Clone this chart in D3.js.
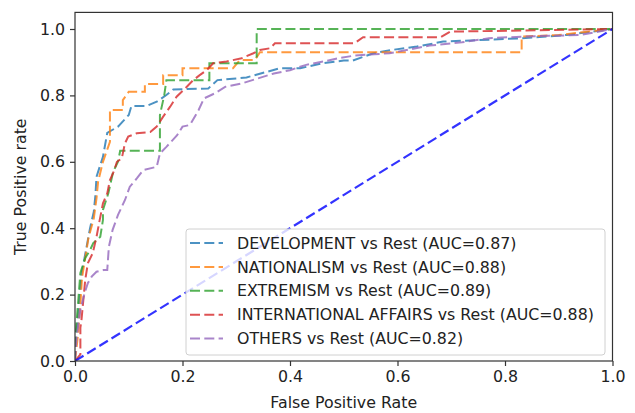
<!DOCTYPE html>
<html>
<head>
<meta charset="utf-8">
<script src="https://cdn.jsdelivr.net/npm/d3@7"></script>
<style>
  html, body { margin: 0; padding: 0; background: #fff; }
  svg { display: block; font-family: "DejaVu Sans", sans-serif; }
</style>
</head>
<body>
<svg id="chart" width="635" height="413"></svg>
<script>
// One-vs-rest ROC curves: [false positive rate, true positive rate] vertices
const classes = ["DEVELOPMENT", "NATIONALISM", "EXTREMISM", "INTERNATIONAL AFFAIRS", "OTHERS"];
const aucValues = [0.87, 0.88, 0.89, 0.88, 0.82];
const seriesColors = ["#1f77b4", "#ff7f0e", "#2ca02c", "#d62728", "#9467bd"];

const rocDevelopment = [
  [0,0],[0.002,0.08],[0.005,0.12],[0.01,0.22],[0.013,0.27],[0.02,0.33],[0.028,0.40],
  [0.035,0.45],[0.038,0.50],[0.040,0.555],[0.052,0.615],[0.060,0.687],[0.080,0.706],
  [0.100,0.741],[0.105,0.768],[0.133,0.768],[0.152,0.781],[0.170,0.801],[0.183,0.818],
  [0.248,0.821],[0.265,0.846],[0.319,0.854],[0.357,0.871],[0.381,0.882],[0.419,0.882],
  [0.462,0.897],[0.500,0.905],[0.517,0.905],[0.555,0.927],[0.590,0.937],[0.636,0.947],
  [0.685,0.962],[0.830,0.972],[0.915,0.982],[1,1]
];
const rocNationalism = [
  [0,0],[0.005,0.07],[0.010,0.17],[0.013,0.25],[0.018,0.30],[0.025,0.37],[0.035,0.43],
  [0.040,0.49],[0.043,0.54],[0.052,0.60],[0.065,0.66],[0.065,0.756],[0.089,0.756],
  [0.089,0.786],[0.100,0.811],[0.130,0.811],[0.130,0.834],[0.164,0.834],[0.164,0.861],
  [0.200,0.861],[0.200,0.882],[0.294,0.882],[0.307,0.907],[0.335,0.907],[0.344,0.930],
  [0.831,0.930],[0.831,0.977],[0.900,0.982],[1,1]
];
const rocExtremism = [
  [0,0],[0,0.05],[0.003,0.12],[0.006,0.18],[0.010,0.265],[0.019,0.31],[0.028,0.334],
  [0.034,0.355],[0.040,0.364],[0.047,0.374],[0.052,0.425],[0.052,0.455],[0.062,0.505],
  [0.071,0.570],[0.080,0.600],[0.084,0.633],[0.158,0.633],[0.158,0.741],[0.166,0.800],
  [0.170,0.846],[0.250,0.846],[0.250,0.897],[0.338,0.897],[0.338,1.0],[1,1]
];
const rocInternational = [
  [0,0],[0.010,0.02],[0.010,0.10],[0.012,0.123],[0.015,0.175],[0.019,0.244],[0.024,0.295],
  [0.033,0.325],[0.040,0.374],[0.046,0.425],[0.052,0.475],[0.060,0.505],[0.065,0.545],
  [0.072,0.570],[0.078,0.600],[0.087,0.610],[0.093,0.656],[0.099,0.676],[0.115,0.686],
  [0.140,0.690],[0.152,0.706],[0.164,0.736],[0.177,0.766],[0.189,0.796],[0.205,0.821],
  [0.220,0.846],[0.232,0.861],[0.245,0.876],[0.257,0.897],[0.282,0.902],[0.310,0.912],
  [0.332,0.927],[0.344,0.937],[0.363,0.942],[0.372,0.957],[0.520,0.957],[0.536,0.975],
  [0.680,0.975],[0.698,0.992],[1,1]
];
const rocOthers = [
  [0,0],[0.003,0.073],[0.010,0.154],[0.018,0.205],[0.024,0.235],[0.031,0.254],[0.040,0.269],
  [0.053,0.274],[0.060,0.274],[0.063,0.344],[0.070,0.395],[0.080,0.440],[0.093,0.485],
  [0.102,0.525],[0.115,0.550],[0.127,0.575],[0.152,0.585],[0.158,0.625],[0.170,0.645],
  [0.190,0.680],[0.200,0.706],[0.214,0.711],[0.230,0.756],[0.240,0.791],[0.260,0.806],
  [0.280,0.826],[0.310,0.836],[0.340,0.851],[0.370,0.866],[0.400,0.876],[0.430,0.892],
  [0.462,0.902],[0.490,0.912],[0.520,0.920],[0.585,0.927],[0.660,0.950],[0.720,0.960],
  [0.770,0.972],[0.830,0.977],[0.940,0.982],[1,1]
];
const rocSeries = [rocDevelopment, rocNationalism, rocExtremism, rocInternational, rocOthers];

// Chance line
const chanceLine = [[0,0],[1,1]];

const xTicks = [0.0, 0.2, 0.4, 0.6, 0.8, 1.0];
const yTicks = [0.0, 0.2, 0.4, 0.6, 0.8, 1.0];

const svg = d3.select("#chart");
const plot = { left: 75, right: 612.5, top: 12.4, bottom: 361 };

const x = d3.scaleLinear().domain([0, 1]).range([plot.left, plot.right]);
const y = d3.scaleLinear().domain([0, 1.05]).range([plot.bottom, plot.top]);

const fontSize = 15.8;
const textColor = "#222";

svg.append("clipPath").attr("id", "plot-clip")
  .append("rect")
  .attr("x", plot.left).attr("y", plot.top)
  .attr("width", plot.right - plot.left).attr("height", plot.bottom - plot.top);

const line = d3.line().x(d => x(d[0])).y(d => y(d[1]));
const dash = "10,4.3";

const curves = svg.append("g").attr("clip-path", "url(#plot-clip)");
rocSeries.forEach((pts, i) => {
  curves.append("path")
    .attr("d", line(pts))
    .attr("fill", "none")
    .attr("stroke", seriesColors[i])
    .attr("stroke-opacity", 0.8)
    .attr("stroke-width", 2)
    .attr("stroke-dasharray", dash);
});
curves.append("path")
  .attr("d", line(chanceLine))
  .attr("fill", "none")
  .attr("stroke", "#0000ff")
  .attr("stroke-opacity", 0.8)
  .attr("stroke-width", 2.2)
  .attr("stroke-dasharray", dash);

// Axes
const xAxis = d3.axisBottom(x).tickValues(xTicks).tickFormat(d3.format(".1f"))
  .tickSize(5).tickPadding(5);
const yAxis = d3.axisLeft(y).tickValues(yTicks).tickFormat(d3.format(".1f"))
  .tickSize(5).tickPadding(5);

const gx = svg.append("g").attr("transform", `translate(0,${plot.bottom})`).call(xAxis);
const gy = svg.append("g").attr("transform", `translate(${plot.left},0)`).call(yAxis);
[gx, gy].forEach(g => {
  g.select(".domain").remove();
  g.selectAll(".tick line").attr("stroke", "#333").attr("stroke-width", 1.2);
  g.selectAll(".tick text").attr("fill", textColor)
    .style("font-size", fontSize + "px").style("font-family", "DejaVu Sans");
});

// Frame
svg.append("rect")
  .attr("x", plot.left).attr("y", plot.top)
  .attr("width", plot.right - plot.left).attr("height", plot.bottom - plot.top)
  .attr("fill", "none").attr("stroke", "#333").attr("stroke-width", 1.2);

// Axis titles
svg.append("text")
  .attr("x", (plot.left + plot.right) / 2).attr("y", 408)
  .attr("text-anchor", "middle")
  .attr("fill", textColor).style("font-size", fontSize + "px")
  .text("False Positive Rate");
svg.append("text")
  .attr("transform", `translate(26,${(plot.top + plot.bottom) / 2}) rotate(-90)`)
  .attr("text-anchor", "middle")
  .attr("fill", textColor).style("font-size", fontSize + "px")
  .text("True Positive rate");

// Legend
const legend = svg.append("g");
legend.append("rect")
  .attr("x", 186).attr("y", 229).attr("width", 419).attr("height", 126)
  .attr("rx", 3).attr("ry", 3)
  .attr("fill", "#fff").attr("fill-opacity", 0.8)
  .attr("stroke", "#d0d0d0").attr("stroke-width", 1);

const rowY = d3.scaleLinear().domain([0, 4]).range([243, 338.5]);
classes.forEach((name, i) => {
  const cy = rowY(i);
  legend.append("line")
    .attr("x1", 190).attr("x2", 223).attr("y1", cy).attr("y2", cy)
    .attr("stroke", seriesColors[i]).attr("stroke-opacity", 0.8)
    .attr("stroke-width", 2).attr("stroke-dasharray", dash);
  legend.append("text")
    .attr("x", 237).attr("y", cy)
    .attr("dy", "0.36em")
    .attr("fill", textColor).style("font-size", fontSize + "px")
    .text(`${name} vs Rest (AUC=${aucValues[i].toFixed(2)})`);
});
</script>
</body>
</html>
